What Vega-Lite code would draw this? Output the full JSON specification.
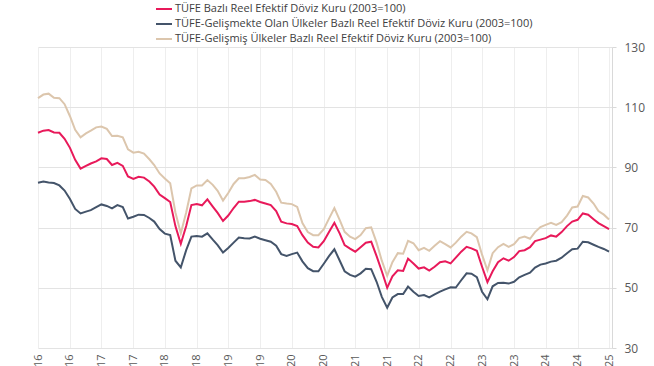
{
  "$schema": "https://vega.github.io/schema/vega-lite/v6.json",
  "width": 574,
  "height": 301,
  "autosize": {"type": "none"},
  "padding": {"left": 38, "right": 42, "top": 47, "bottom": 18},
  "background": "white",
  "config": {
    "view": {"stroke": null},
    "font": "Open Sans"
  },
  "data": {
    "values": [
      {"t":"2016-05-01","a":101.5,"b":84.9,"c":113.0},
      {"t":"2016-06-01","a":102.2,"b":85.3,"c":114.2},
      {"t":"2016-07-01","a":102.4,"b":85.0,"c":114.5},
      {"t":"2016-08-01","a":101.6,"b":84.8,"c":113.1},
      {"t":"2016-09-01","a":101.5,"b":84.0,"c":113.0},
      {"t":"2016-10-01","a":99.5,"b":82.3,"c":111.0},
      {"t":"2016-11-01","a":96.5,"b":79.5,"c":107.0},
      {"t":"2016-12-01","a":92.5,"b":76.2,"c":102.5},
      {"t":"2017-01-01","a":89.6,"b":74.7,"c":100.0},
      {"t":"2017-02-01","a":90.5,"b":75.3,"c":101.3},
      {"t":"2017-03-01","a":91.3,"b":75.8,"c":102.2},
      {"t":"2017-04-01","a":92.0,"b":76.8,"c":103.3},
      {"t":"2017-05-01","a":93.0,"b":77.7,"c":103.6},
      {"t":"2017-06-01","a":92.8,"b":77.2,"c":102.8},
      {"t":"2017-07-01","a":90.8,"b":76.4,"c":100.4},
      {"t":"2017-08-01","a":91.5,"b":77.5,"c":100.5},
      {"t":"2017-09-01","a":90.5,"b":76.8,"c":100.0},
      {"t":"2017-10-01","a":87.0,"b":73.0,"c":96.0},
      {"t":"2017-11-01","a":86.2,"b":73.6,"c":94.9},
      {"t":"2017-12-01","a":86.9,"b":74.3,"c":95.2},
      {"t":"2018-01-01","a":86.6,"b":74.2,"c":94.6},
      {"t":"2018-02-01","a":85.3,"b":73.2,"c":92.7},
      {"t":"2018-03-01","a":83.6,"b":72.0,"c":90.8},
      {"t":"2018-04-01","a":81.0,"b":69.5,"c":88.0},
      {"t":"2018-05-01","a":79.8,"b":68.0,"c":86.3},
      {"t":"2018-06-01","a":78.5,"b":67.5,"c":84.7},
      {"t":"2018-07-01","a":70.5,"b":59.0,"c":75.0},
      {"t":"2018-08-01","a":64.6,"b":56.8,"c":68.1},
      {"t":"2018-09-01","a":70.5,"b":62.5,"c":75.0},
      {"t":"2018-10-01","a":77.5,"b":67.0,"c":83.0},
      {"t":"2018-11-01","a":77.8,"b":67.2,"c":84.0},
      {"t":"2018-12-01","a":77.4,"b":67.0,"c":84.0},
      {"t":"2019-01-01","a":79.4,"b":68.1,"c":85.8},
      {"t":"2019-02-01","a":77.0,"b":66.0,"c":84.2},
      {"t":"2019-03-01","a":74.9,"b":64.2,"c":82.2},
      {"t":"2019-04-01","a":72.2,"b":61.7,"c":79.0},
      {"t":"2019-05-01","a":74.0,"b":63.2,"c":81.5},
      {"t":"2019-06-01","a":76.5,"b":65.0,"c":84.5},
      {"t":"2019-07-01","a":78.6,"b":66.7,"c":86.4},
      {"t":"2019-08-01","a":78.6,"b":66.5,"c":86.4},
      {"t":"2019-09-01","a":78.8,"b":66.4,"c":86.8},
      {"t":"2019-10-01","a":79.2,"b":67.0,"c":87.5},
      {"t":"2019-11-01","a":78.5,"b":66.3,"c":86.0},
      {"t":"2019-12-01","a":78.0,"b":65.8,"c":85.8},
      {"t":"2020-01-01","a":77.5,"b":65.3,"c":84.5},
      {"t":"2020-02-01","a":75.5,"b":64.0,"c":81.9},
      {"t":"2020-03-01","a":72.0,"b":61.2,"c":78.3},
      {"t":"2020-04-01","a":71.4,"b":60.6,"c":78.0},
      {"t":"2020-05-01","a":71.2,"b":61.2,"c":77.8},
      {"t":"2020-06-01","a":70.5,"b":61.7,"c":76.9},
      {"t":"2020-07-01","a":67.5,"b":58.8,"c":71.5},
      {"t":"2020-08-01","a":65.0,"b":56.5,"c":68.5},
      {"t":"2020-09-01","a":63.6,"b":55.5,"c":67.5},
      {"t":"2020-10-01","a":63.4,"b":55.5,"c":67.5},
      {"t":"2020-11-01","a":65.5,"b":58.0,"c":69.5},
      {"t":"2020-12-01","a":68.5,"b":60.5,"c":73.0},
      {"t":"2021-01-01","a":71.6,"b":62.8,"c":76.5},
      {"t":"2021-02-01","a":68.0,"b":59.0,"c":72.5},
      {"t":"2021-03-01","a":64.2,"b":55.5,"c":68.6},
      {"t":"2021-04-01","a":63.0,"b":54.3,"c":67.0},
      {"t":"2021-05-01","a":62.0,"b":53.7,"c":66.2},
      {"t":"2021-06-01","a":63.5,"b":54.8,"c":67.5},
      {"t":"2021-07-01","a":65.0,"b":56.3,"c":69.8},
      {"t":"2021-08-01","a":65.3,"b":56.2,"c":70.1},
      {"t":"2021-09-01","a":60.5,"b":52.0,"c":65.0},
      {"t":"2021-10-01","a":55.5,"b":47.0,"c":59.0},
      {"t":"2021-11-01","a":50.0,"b":43.4,"c":54.0},
      {"t":"2021-12-01","a":53.8,"b":46.8,"c":58.5},
      {"t":"2022-01-01","a":55.8,"b":47.9,"c":61.5},
      {"t":"2022-02-01","a":55.6,"b":47.9,"c":61.3},
      {"t":"2022-03-01","a":59.7,"b":50.4,"c":65.6},
      {"t":"2022-04-01","a":58.1,"b":48.7,"c":64.8},
      {"t":"2022-05-01","a":56.4,"b":47.3,"c":62.5},
      {"t":"2022-06-01","a":56.8,"b":47.6,"c":63.3},
      {"t":"2022-07-01","a":55.7,"b":46.8,"c":62.3},
      {"t":"2022-08-01","a":57.0,"b":47.8,"c":64.0},
      {"t":"2022-09-01","a":58.5,"b":48.7,"c":65.5},
      {"t":"2022-10-01","a":58.8,"b":49.5,"c":64.5},
      {"t":"2022-11-01","a":58.1,"b":50.2,"c":63.4},
      {"t":"2022-12-01","a":60.0,"b":50.1,"c":65.0},
      {"t":"2023-01-01","a":62.0,"b":52.5,"c":67.0},
      {"t":"2023-02-01","a":63.6,"b":54.8,"c":68.6},
      {"t":"2023-03-01","a":63.1,"b":54.7,"c":68.1},
      {"t":"2023-04-01","a":62.3,"b":53.5,"c":66.8},
      {"t":"2023-05-01","a":57.0,"b":48.7,"c":61.0},
      {"t":"2023-06-01","a":51.9,"b":46.2,"c":55.8},
      {"t":"2023-07-01","a":55.5,"b":50.5,"c":61.5},
      {"t":"2023-08-01","a":58.5,"b":51.6,"c":63.5},
      {"t":"2023-09-01","a":59.8,"b":51.7,"c":64.6},
      {"t":"2023-10-01","a":59.0,"b":51.4,"c":63.6},
      {"t":"2023-11-01","a":60.2,"b":52.0,"c":64.5},
      {"t":"2023-12-01","a":62.2,"b":53.5,"c":66.5},
      {"t":"2024-01-01","a":62.5,"b":54.3,"c":67.0},
      {"t":"2024-02-01","a":63.5,"b":55.0,"c":66.3},
      {"t":"2024-03-01","a":65.5,"b":56.7,"c":68.5},
      {"t":"2024-04-01","a":66.0,"b":57.7,"c":70.2},
      {"t":"2024-05-01","a":66.5,"b":58.1,"c":70.9},
      {"t":"2024-06-01","a":67.4,"b":58.7,"c":71.6},
      {"t":"2024-07-01","a":67.0,"b":59.0,"c":70.9},
      {"t":"2024-08-01","a":68.5,"b":60.0,"c":71.8},
      {"t":"2024-09-01","a":70.5,"b":61.5,"c":74.0},
      {"t":"2024-10-01","a":72.0,"b":62.8,"c":76.7},
      {"t":"2024-11-01","a":72.6,"b":63.0,"c":77.0},
      {"t":"2024-12-01","a":74.7,"b":65.3,"c":80.5},
      {"t":"2025-01-01","a":74.3,"b":65.1,"c":80.0},
      {"t":"2025-02-01","a":72.8,"b":64.3,"c":78.0},
      {"t":"2025-03-01","a":71.5,"b":63.6,"c":75.5},
      {"t":"2025-04-01","a":70.5,"b":62.9,"c":74.3},
      {"t":"2025-05-01","a":69.5,"b":62.0,"c":72.7}
    ]
  },
  "transform": [
    {"fold": ["a", "b", "c"], "as": ["seri", "deger"]}
  ],
  "mark": {"type": "line", "strokeWidth": 2, "interpolate": "linear"},
  "encoding": {
    "x": {
      "field": "t",
      "type": "temporal",
      "scale": {
        "type": "utc",
        "domain": [
          {"year": 2016, "month": 5, "date": 1, "utc": true},
          {"year": 2025, "month": 5, "date": 18, "utc": true}
        ]
      },
      "axis": {
        "title": null,
        "values": [
          {"year": 2016, "month": 5, "date": 1, "utc": true},
          {"year": 2016, "month": 11, "date": 1, "utc": true},
          {"year": 2017, "month": 5, "date": 1, "utc": true},
          {"year": 2017, "month": 11, "date": 1, "utc": true},
          {"year": 2018, "month": 5, "date": 1, "utc": true},
          {"year": 2018, "month": 11, "date": 1, "utc": true},
          {"year": 2019, "month": 5, "date": 1, "utc": true},
          {"year": 2019, "month": 11, "date": 1, "utc": true},
          {"year": 2020, "month": 5, "date": 1, "utc": true},
          {"year": 2020, "month": 11, "date": 1, "utc": true},
          {"year": 2021, "month": 5, "date": 1, "utc": true},
          {"year": 2021, "month": 11, "date": 1, "utc": true},
          {"year": 2022, "month": 5, "date": 1, "utc": true},
          {"year": 2022, "month": 11, "date": 1, "utc": true},
          {"year": 2023, "month": 5, "date": 1, "utc": true},
          {"year": 2023, "month": 11, "date": 1, "utc": true},
          {"year": 2024, "month": 5, "date": 1, "utc": true},
          {"year": 2024, "month": 11, "date": 1, "utc": true},
          {"year": 2025, "month": 5, "date": 1, "utc": true}
        ],
        "labelExpr": "(utcmonth(datum.value) == 4 ? 'May' : 'Kas') + '.' + utcFormat(datum.value, '%y')",
        "labelAngle": 270,
        "labelFontSize": 11,
        "labelColor": "#595959",
        "labelPadding": 6,
        "labelOverlap": false,
        "labelFlush": false,
        "domain": false,
        "ticks": false,
        "grid": true,
        "gridColor": "#eeeeee",
        "gridWidth": 1
      }
    },
    "y": {
      "field": "deger",
      "type": "quantitative",
      "scale": {"domain": [30, 130], "nice": false, "zero": false},
      "axis": {
        "orient": "right",
        "title": null,
        "values": [30, 50, 70, 90, 110, 130],
        "labelFontSize": 12,
        "labelColor": "#595959",
        "labelPadding": 8,
        "domain": true,
        "domainColor": "#d9d9d9",
        "ticks": true,
        "tickColor": "#d9d9d9",
        "tickSize": 4,
        "grid": true,
        "gridColor": "#e3e3e3",
        "gridWidth": 1
      }
    },
    "color": {
      "field": "seri",
      "type": "nominal",
      "scale": {
        "domain": ["a", "b", "c"],
        "range": ["#e8195a", "#44546a", "#dcc6ad"]
      },
      "legend": {
        "title": null,
        "orient": "none",
        "legendX": 117,
        "legendY": -47,
        "direction": "vertical",
        "symbolType": "stroke",
        "symbolSize": 256,
        "symbolStrokeWidth": 2,
        "labelFontSize": 11,
        "labelColor": "#404040",
        "labelOffset": 2,
        "rowPadding": 1,
        "padding": 0,
        "labelLimit": 600,
        "labelExpr": "datum.label == 'a' ? 'TÜFE  Bazlı Reel Efektif Döviz Kuru (2003=100)' : datum.label == 'b' ? 'TÜFE-Gelişmekte Olan Ülkeler Bazlı Reel Efektif Döviz Kuru (2003=100)' : 'TÜFE-Gelişmiş Ülkeler Bazlı Reel Efektif Döviz Kuru (2003=100)'"
      }
    },
    "order": {"field": "t", "type": "temporal"}
  }
}
